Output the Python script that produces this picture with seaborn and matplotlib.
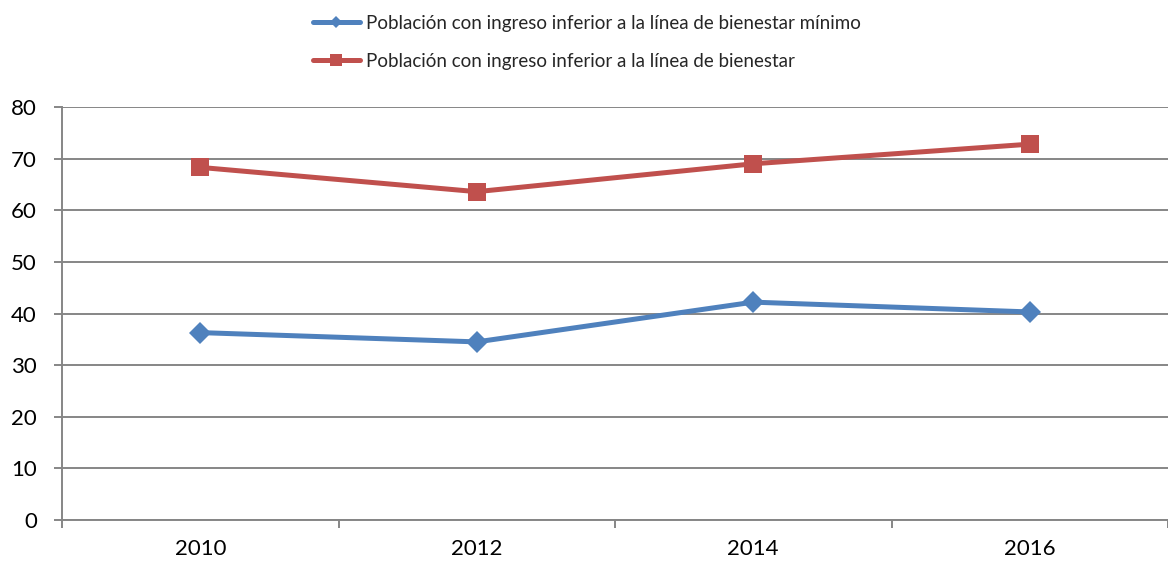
import matplotlib
matplotlib.use("Agg")
import matplotlib.pyplot as plt
import seaborn as sns
import pandas as pd
from matplotlib.lines import Line2D

years = ["2010", "2012", "2014", "2016"]
serie_minimo = [36.3, 34.5, 42.2, 40.3]
serie_bienestar = [68.3, 63.6, 69.0, 72.8]
label_minimo = "Población con ingreso inferior a la línea de bienestar mínimo"
label_bienestar = "Población con ingreso inferior a la línea de bienestar"
y_ticks = [0, 10, 20, 30, 40, 50, 60, 70, 80]

blue = "#4F81BD"
red = "#C0504D"
grid_color = "#868686"

sns.set_theme(style="white")
plt.rcParams["font.family"] = ["Lato", "DejaVu Sans"]

df = pd.DataFrame({
    "pos": list(range(len(years))) * 2,
    "valor": serie_minimo + serie_bienestar,
    "serie": [label_minimo] * len(years) + [label_bienestar] * len(years),
})

W, H = 1168, 567
left_px, top_px, bottom_px = 62, 107, 520
cat_px = 278.0

fig = plt.figure(figsize=(W / 100, H / 100), dpi=100)
ax = fig.add_axes([left_px / W, (H - bottom_px) / H,
                   (W - left_px) / W, (bottom_px - top_px) / H])

sns.lineplot(
    data=df, x="pos", y="valor", hue="serie", style="serie",
    palette={label_minimo: blue, label_bienestar: red},
    markers={label_minimo: "D", label_bienestar: "s"},
    dashes=False, linewidth=3.6, markersize=11, markeredgewidth=0,
    legend=False, ax=ax,
)
for line in ax.get_lines():
    if line.get_marker() == "s":
        line.set_markersize(13.5)
    line.set_zorder(3)

n = len(years)
ax.set_xlim(-0.5, -0.5 + (W - left_px) / cat_px)
ax.set_ylim(0, 80)
ax.set_yticks(y_ticks)
ax.set_yticklabels([str(t) for t in y_ticks])
ax.yaxis.grid(True, color=grid_color, linewidth=1.4)
ax.set_axisbelow(True)

# category boundaries carry tick marks; labels sit at category centres
ax.set_xticks([i - 0.5 for i in range(n + 1)])
ax.set_xticklabels([""] * (n + 1))
ax.set_xticks(range(n), minor=True)
ax.set_xticklabels(years, minor=True)
ax.tick_params(axis="x", which="major", direction="out", length=6, width=1.4,
               color=grid_color, bottom=True)
ax.tick_params(axis="x", which="minor", length=0, pad=14, labelsize=16,
               labelcolor="black", bottom=True)
ax.tick_params(axis="y", direction="out", length=6, width=1.4, color=grid_color,
               pad=12, labelsize=16, labelcolor="black", left=True)
ax.set_xlabel("")
ax.set_ylabel("")

for side in ["top", "right"]:
    ax.spines[side].set_visible(False)
for side in ["left", "bottom"]:
    ax.spines[side].set_color(grid_color)
    ax.spines[side].set_linewidth(1.4)

handles = [
    Line2D([0], [0], color=blue, linewidth=3.6, marker="D", markersize=6,
           markeredgewidth=0),
    Line2D([0], [0], color=red, linewidth=3.6, marker="s", markersize=8.5,
           markeredgewidth=0),
]
fig.legend(handles, [label_minimo, label_bienestar], loc="upper left",
           bbox_to_anchor=(296 / W, 1 + 2 / H), frameon=False,
           fontsize=13.5, handlelength=2.5, handletextpad=0.35, labelspacing=1.1)

fig.savefig("out.png", dpi=100, facecolor="white")
